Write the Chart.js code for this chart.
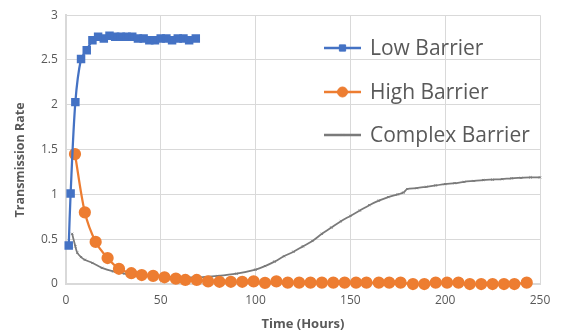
<!DOCTYPE html>
<html>
<head>
<meta charset="utf-8">
<script src="https://cdn.jsdelivr.net/npm/chart.js@4/dist/chart.umd.min.js"></script>
<style>
  html, body { margin: 0; padding: 0; background: #fff; }
  #wrap { width: 564px; height: 333px; }
</style>
</head>
<body>
<div id="wrap"><canvas id="resultChart" width="564" height="333"></canvas></div>
<script>
// values
var lowX  = [1.5, 2.5, 5, 8, 11, 14, 17, 20, 23, 26, 29, 32, 35, 38, 41, 44, 47, 50, 53, 56, 59, 62, 65, 68.5]
var lowY  = [0.43, 1.01, 2.03, 2.51, 2.61, 2.72, 2.76, 2.74, 2.77, 2.76, 2.76, 2.76, 2.76, 2.74, 2.74, 2.72, 2.72, 2.74, 2.74, 2.72, 2.74, 2.74, 2.72, 2.74]

var highX = [4.8, 10, 15.7, 22, 28, 34.5, 40, 46, 52, 58, 63, 69, 75, 81, 87, 93, 99, 105, 111, 117, 123, 129, 135, 141, 147, 153, 158.5, 165, 170.5, 176.5, 183, 189, 195, 201, 207, 213, 219, 225, 231, 236.5, 243]
var highY = [1.45, 0.80, 0.47, 0.29, 0.17, 0.12, 0.10, 0.09, 0.075, 0.06, 0.045, 0.045, 0.03, 0.025, 0.025, 0.025, 0.03, 0.012, 0.03, 0.015, 0.015, 0.015, 0.015, 0.015, 0.015, 0.015, 0.015, 0.015, 0.015, 0.015, 0.0, 0.0, 0.015, 0.015, 0.015, 0.0, 0.0, 0.0, 0.0, 0.0, 0.015]

var complexX = [3.3, 5, 6, 8, 10, 14, 19, 25, 31, 38, 45, 52, 60, 70, 80, 90, 100, 105, 110, 115, 120, 125, 130, 135, 140, 145, 150, 155, 160, 165, 170, 175, 178, 180, 185, 190, 195, 200, 205, 210, 215, 220, 225, 230, 235, 240, 245, 250]
var complexY = [0.56, 0.42, 0.35, 0.30, 0.27, 0.235, 0.18, 0.14, 0.115, 0.10, 0.09, 0.08, 0.075, 0.075, 0.09, 0.115, 0.16, 0.20, 0.25, 0.31, 0.36, 0.42, 0.48, 0.56, 0.63, 0.70, 0.76, 0.82, 0.88, 0.93, 0.97, 1.00, 1.02, 1.06, 1.07, 1.085, 1.10, 1.115, 1.125, 1.14, 1.15, 1.16, 1.165, 1.17, 1.18, 1.185, 1.19, 1.19]

var seriesNames = ["Low Barrier", "High Barrier", "Complex Barrier"]
var xTicks = [0, 50, 100, 150, 200, 250]
var yTicks = [0, 0.5, 1, 1.5, 2, 2.5, 3]
var yTitle = "Transmission Rate"
var xTitle = "Time (Hours)"

var blue = "#4472C4"
var orange = "#ED7D31"
var grey = "#7A7A7A"
var textGrey = "#595959"
var gridGrey = "#D9D9D9"

function pairs(xs, ys) {
    return xs.map((t, i) => ({ x: t, y: ys[i] }))
}

// legend drawn on top of the plot, like the reference
Chart.register({
    id: 'overlayLegend',
    afterDraw(chart) {
        const ctx = chart.ctx
        const rows = [48, 92, 135]
        ctx.save()
        chart.data.datasets.forEach((ds, i) => {
            const y = rows[i]
            ctx.strokeStyle = ds.borderColor
            ctx.lineWidth = 2.5
            ctx.beginPath()
            ctx.moveTo(324, y)
            ctx.lineTo(361, y)
            ctx.stroke()
            ctx.fillStyle = ds.borderColor
            ctx.strokeStyle = ds.borderColor
            ctx.lineWidth = 1
            Chart.helpers.drawPoint(ctx, {
                pointStyle: ds.pointStyle,
                radius: ds.legendRadius,
                borderWidth: 1
            }, 342.5, y)
            ctx.fillStyle = textGrey
            ctx.font = "21px 'Open Sans'"
            ctx.textBaseline = "middle"
            ctx.fillText(ds.label, 370, y + 1)
        })

        // y axis title sits a little below the middle in the reference
        ctx.translate(20, 160)
        ctx.rotate(-Math.PI / 2)
        ctx.font = "bold 12.5px 'Open Sans'"
        ctx.fillStyle = textGrey
        ctx.textAlign = "center"
        ctx.textBaseline = "middle"
        ctx.fillText(yTitle, 0, 0)
        ctx.restore()
    }
})

Chart.register({
    id: 'whiteBackground',
    beforeDraw(chart) {
        const ctx = chart.canvas.getContext("2d")
        ctx.fillStyle = "white"
        ctx.fillRect(0, 0, chart.width, chart.height)
    }
})

const ctx = document.getElementById("resultChart").getContext('2d')
chart = new Chart(ctx, {
    type: "scatter",
    data: {
        datasets: [{
            label: seriesNames[0],
            data: pairs(lowX, lowY),
            showLine: true,
            borderColor: blue,
            backgroundColor: blue,
            borderWidth: 2.25,
            pointStyle: 'rect',
            pointRadius: 4.4,
            legendRadius: 4.4,
            tension: 0.3,
            clip: false
        }, {
            label: seriesNames[1],
            data: pairs(highX, highY),
            showLine: true,
            borderColor: orange,
            backgroundColor: orange,
            borderWidth: 2.25,
            pointStyle: 'circle',
            pointRadius: 5,
            legendRadius: 5,
            tension: 0.3,
            clip: false
        }, {
            label: seriesNames[2],
            data: pairs(complexX, complexY),
            showLine: true,
            borderColor: grey,
            backgroundColor: grey,
            borderWidth: 1.75,
            pointStyle: 'crossRot',
            pointRadius: 1.5,
            pointBorderWidth: 1,
            legendRadius: 1.5,
            tension: 0.3,
            clip: false
        }]
    },
    options: {
        responsive: false,
        animation: false,
        layout: { padding: { top: 10, right: 24, left: 33, bottom: 1 } },
        plugins: {
            legend: { display: false },
            tooltip: { enabled: false }
        },
        scales: {
            x: {
                type: 'linear',
                min: 0,
                max: 250,
                afterBuildTicks: (axis) => { axis.ticks = xTicks.map(v => ({ value: v })) },
                grid: { color: gridGrey, lineWidth: 1, drawTicks: false },
                border: { color: gridGrey, width: 2 },
                ticks: { color: textGrey, padding: 9, font: { family: "'Open Sans'", size: 12 } },
                title: {
                    display: true,
                    text: xTitle,
                    color: textGrey,
                    padding: { top: 0, bottom: 0 },
                    font: { family: "'Open Sans'", size: 13, weight: 'bold' }
                }
            },
            y: {
                min: 0,
                max: 3,
                afterBuildTicks: (axis) => { axis.ticks = yTicks.map(v => ({ value: v })) },
                grid: { color: gridGrey, lineWidth: 1, drawTicks: false },
                border: { color: gridGrey, width: 2 },
                ticks: {
                    color: textGrey,
                    padding: 8,
                    font: { family: "'Open Sans'", size: 12 },
                    callback: (v) => String(v)
                }
            }
        }
    }
})
</script>
</body>
</html>
